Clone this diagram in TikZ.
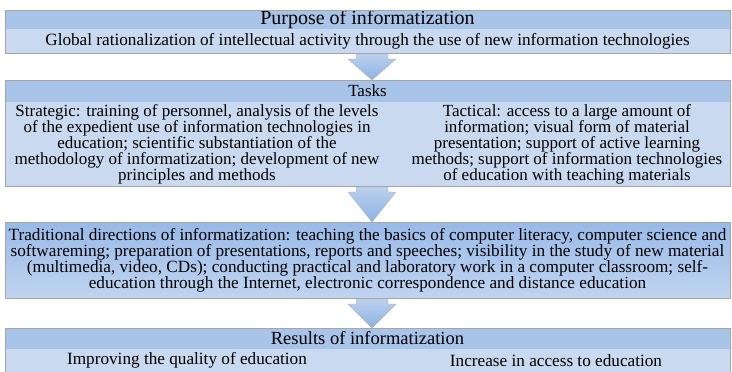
\documentclass[tikz,border=0pt]{standalone}
\usepackage{fontspec}
\setmainfont{Liberation Serif}
\usepackage{xcolor}
\usetikzlibrary{positioning, calc}
\definecolor{HeadBlue}{HTML}{A8C4E9}
\definecolor{SubBlue}{HTML}{C9D9F0}
\definecolor{DirTop}{HTML}{98BAE8}
\definecolor{DirBottom}{HTML}{C0D4F0}
\definecolor{ArrowBlue}{HTML}{8DB2E3}

\begin{document}
\begin{tikzpicture}[
    x=1pt, y=-1pt,
    band/.style={
        rectangle, inner sep=0pt, outer sep=0pt,
        minimum width=725pt, align=center
    },
    head/.style={band, fill=HeadBlue, font=\fontsize{17}{19}\selectfont},
    sub/.style={band, fill=SubBlue, font=\fontsize{17.2}{19}\selectfont},
    frame/.style={draw=black!35, line width=0.6pt},
    coltext/.style={align=center, inner sep=0pt, font=\fontsize{17}{16}\selectfont},
    dirtext/.style={align=center, inner sep=0pt, font=\fontsize{17.2}{16}\selectfont},
    flow/.style={draw=black!30, line width=0.4pt, top color=ArrowBlue!60, bottom color=ArrowBlue}
]
    \useasboundingbox (0,0) rectangle (732,372);

    % Purpose
    \node[head, minimum height=19pt, font=\fontsize{20}{21}\selectfont] (purpose) at (367.5,19.5) {Purpose of informatization};
    \node[sub, minimum height=24pt, below=0pt of purpose] (goal) {Global rationalization of intellectual activity through the use of new information technologies};
    \draw[frame] (purpose.north west) rectangle (goal.south east);

    % Tasks
    \node[head, minimum height=22pt] (taskhead) at (367.5,91) {Tasks};
    \node[sub, minimum height=84pt, below=0pt of taskhead] (taskbody) {};
    \draw[frame] (taskhead.north west) rectangle (taskbody.south east);
    \node[coltext] (strategic) at (197,144) {Strategic: training of personnel, analysis of the levels\\of the expedient use of information technologies in\\education; scientific substantiation of the\\methodology of informatization; development of new\\principles and methods};
    \node[coltext] (tactical) at (567,144) {Tactical: access to a large amount of\\information; visual form of material\\presentation; support of active learning\\methods; support of information technologies\\of education with teaching materials};

    % Traditional directions
    \node[band, minimum height=76pt, top color=DirTop, bottom color=DirBottom, draw=black!35, line width=0.6pt] (directions) at (367.5,260) {};
    \node[dirtext] (dirlabel) at (directions.center) {Traditional directions of informatization: teaching the basics of computer literacy, computer science and\\softwareming; preparation of presentations, reports and speeches; visibility in the study of new material\\(multimedia, video, CDs); conducting practical and laboratory work in a computer classroom; self-\\education through the Internet, electronic correspondence and distance education};

    % Results
    \node[head, minimum height=21pt, font=\fontsize{18.5}{20}\selectfont] (resulthead) at (367.5,338.5) {Results of informatization};
    \node[sub, minimum height=23pt, below=0pt of resulthead] (resultbody) {};
    \draw[frame] (resulthead.north west) rectangle (resultbody.south east);
    \node[sub, fill=none, minimum width=0pt] (quality) at (187,360.5) {Improving the quality of education};
    \node[sub, fill=none, minimum width=0pt] (access) at (556,360.5) {Increase in access to education};

    % Arrows between the blocks
    \foreach \a/\b in {goal/taskhead, taskbody/directions, directions/resulthead} {
        \path[flow] ($(\a.south)+(4.5pt,-1pt)$) coordinate (t)
            ($(t)+(-16pt,0pt)$) -- ($(t)+(16pt,0pt)$) -- ($(t)+(16pt,-5pt)$)
            -- ($(t)+(24pt,-5pt)$) -- ($(\b.north)+(4.5pt,0pt)$)
            -- ($(t)+(-24pt,-5pt)$) -- ($(t)+(-16pt,-5pt)$) -- cycle;
    }
\end{tikzpicture}
\end{document}
